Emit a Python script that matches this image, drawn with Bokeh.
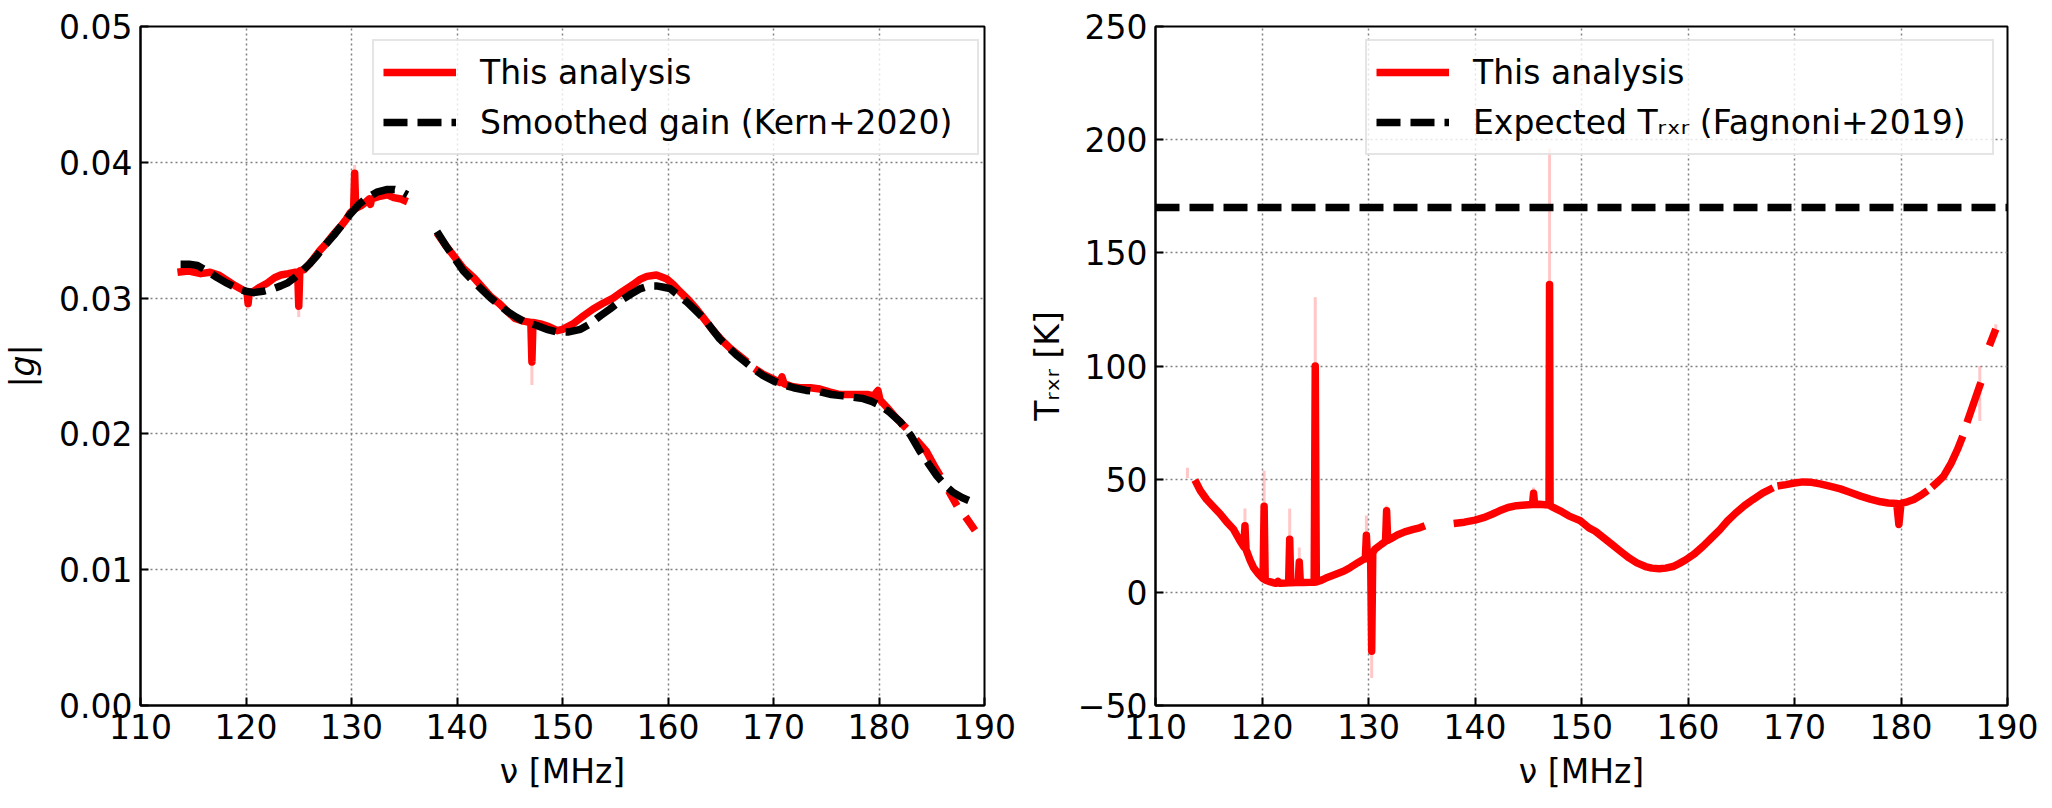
import math
from bokeh.plotting import figure
from bokeh.layouts import row
from bokeh.models import (Range1d, FixedTicker, NumeralTickFormatter,
                          CustomJSTickFormatter, Legend, LegendItem)
from bokeh.embed import file_html
from bokeh.resources import INLINE

NaN = float("nan")

# ---------------- data ----------------
freq_ticks = [110, 120, 130, 140, 150, 160, 170, 180, 190]
gain_ticks = [0.0, 0.01, 0.02, 0.03, 0.04, 0.05]
trxr_ticks = [-50, 0, 50, 100, 150, 200, 250]

# |g| : this analysis (NaN = flagged gap)
gain_freq = [113.5, 114.5, 115.7, 116.6, 117.4, 118.2, 119.0, 119.7, 120.1, 120.2, 120.3,
             120.7, 121.3, 122.0, 122.7, 123.3, 124.0, 124.6, 124.9, 125.0, 125.1, 125.5,
             126.0, 126.4, 127.0, 127.7, 128.3, 129.0, 129.5, 129.9, 130.2, 130.3, 130.4,
             130.9, 131.4, 131.7, 131.8, 131.9, 132.7, 133.4, 134.0, 134.7, 135.3, NaN,
             138.1, 138.9, 139.7, 140.6, 141.6, 142.4, 143.2, 144.0, 144.8, 145.5, 146.3,
             147.0, 147.1, 147.2, 147.9, 148.7, 149.5, 150.0, 151.0, 152.0, 152.9, 153.8,
             154.8, 155.7, 156.7, 157.4, 158.0, 158.9, 159.9, 160.5, 161.1, 161.9, 162.7,
             163.5, 164.3, 165.1, 165.9, 166.7, 167.5, NaN, 168.2, 169.0, 169.8, 170.6,
             170.8, 171.0, 171.7, 172.5, 173.5, 174.4, 175.3, 176.3, 177.2, 178.2, 178.9,
             179.5, 179.9, 180.1, 180.7, 181.6, 182.6, NaN, 183.5, 184.5, 185.2, 185.8, NaN,
             186.6, 187.4, NaN, 188.2, 189.1]
gain_amp = [0.0319, 0.0320, 0.0318, 0.0319, 0.0317, 0.0313, 0.0309, 0.0306, 0.0304, 0.0296, 0.0304,
            0.0305, 0.0308, 0.0311, 0.0315, 0.0317, 0.0318, 0.0319, 0.0319, 0.0294, 0.0320, 0.0321,
            0.0325, 0.0329, 0.0335, 0.0341, 0.0347, 0.0353, 0.0358, 0.0363, 0.0365, 0.0392, 0.0366,
            0.0368, 0.0371, 0.0373, 0.0369, 0.0373, 0.0375, 0.0376, 0.0374, 0.0373, 0.0371, NaN,
            0.0348, 0.0339, 0.0331, 0.0322, 0.0315, 0.0308, 0.0301, 0.0296, 0.0290, 0.0285, 0.0283,
            0.0282, 0.0253, 0.0282, 0.0281, 0.0279, 0.0276, 0.0277, 0.0281, 0.0287, 0.0292, 0.0296,
            0.0300, 0.0305, 0.0310, 0.0314, 0.0316, 0.0317, 0.0314, 0.0310, 0.0305, 0.0299, 0.0292,
            0.0284, 0.0276, 0.0269, 0.0263, 0.0258, 0.0253, NaN, 0.0248, 0.0244, 0.0241, 0.0238,
            0.0242, 0.0237, 0.0235, 0.0234, 0.0234, 0.0233, 0.0231, 0.0229, 0.0229, 0.0229, 0.0229,
            0.0228, 0.0232, 0.0225, 0.0220, 0.0212, 0.0204, NaN, 0.0196, 0.0187, 0.0177, 0.0169, NaN,
            0.0158, 0.0147, NaN, 0.0139, 0.0129]

# |g| uncertainty excursions at flagged spikes
gain_err_freq = [120.2, 125.0, 130.3, 147.1]
gain_err_lo = [0.0296, 0.0294, 0.0392, 0.0253]
gain_err_hi = [0.0292, 0.0286, 0.0398, 0.0236]

# smoothed gain (Kern+2020)
smooth_freq = [113.8, 114.6, 115.4, 116.3, 117.3, 118.2, 119.2, 120.0, 120.7, 121.6, 122.6,
               123.3, 123.9, 124.6, 125.2, 126.0, 126.7, 127.5, 128.3, 129.1, 129.9, 130.7,
               131.5, 132.4, 133.4, 134.1, 134.6, 135.3, NaN,
               138.1, 139.0, 139.7, 140.6, 141.6, 142.4, 143.2, 144.0, 144.8, 145.6, 146.3,
               147.5, 148.5, 149.5, 150.5, 151.7, 152.6, 153.6, 154.5, 155.5, 156.5, 157.4,
               158.2, 158.9, 159.6, 160.2, 161.0, 161.8, 162.6, 163.4, 164.2, 164.9, 165.7,
               166.5, 167.3, 168.1, 169.0, 170.0, 171.0, 171.9, 173.1, 174.4, 175.5, 176.6,
               177.5, 178.5, 179.3, 180.1, 181.0, 182.0, 183.0, 183.9, 184.7, 185.5, 186.3,
               187.0, 187.9, 188.8]
smooth_amp = [0.0325, 0.0325, 0.0324, 0.0320, 0.0315, 0.0311, 0.0307, 0.0305, 0.0304, 0.0305, 0.0307,
              0.0309, 0.0311, 0.0315, 0.0319, 0.0325, 0.0331, 0.0339, 0.0346, 0.0354, 0.0362, 0.0369,
              0.0374, 0.0378, 0.0380, 0.0380, 0.0379, 0.0376, NaN,
              0.0349, 0.0338, 0.0330, 0.0320, 0.0312, 0.0306, 0.0300, 0.0295, 0.0290, 0.0286, 0.0283,
              0.0280, 0.0277, 0.0275, 0.0275, 0.0277, 0.0281, 0.0287, 0.0292, 0.0298, 0.0303, 0.0307,
              0.0309, 0.0309, 0.0308, 0.0307, 0.0302, 0.0297, 0.0291, 0.0285, 0.0277, 0.0270, 0.0264,
              0.0258, 0.0253, 0.0248, 0.0243, 0.0239, 0.0236, 0.0234, 0.0232, 0.0231, 0.0229, 0.0228,
              0.0227, 0.0226, 0.0224, 0.0221, 0.0216, 0.0209, 0.0199, 0.0187, 0.0178, 0.0169, 0.0162,
              0.0157, 0.0153, 0.0150]

# T_rxr : this analysis
trxr_freq = [113.7, 114.2, 114.8, 115.5, 116.1, 116.7, 117.3, 117.9, 118.3, 118.4, 118.5,
             118.9, 119.2, 119.6, 120.0, 120.1, 120.2, 120.3, 120.8, 121.3, 121.5, 121.7,
             122.2, 122.5, 122.6, 122.7, 123.2, 123.4, 123.5, 123.6, 123.9, 124.5, 124.9,
             125.0, 125.1, 125.6, 126.0, 126.5, 127.1, 127.7, 128.3, 129.0, 129.5, 129.7,
             129.8, 129.9, 130.2, 130.3, 130.4, 130.6, 131.2, 131.6, 131.7, 131.8, 132.1,
             132.7, 133.4, 134.2, 134.8, 135.3, NaN,
             138.0, 139.0, 140.0, 140.8, 141.6, 142.3, 143.1, 143.9, 144.7, 145.4, 145.5,
             145.6, 146.0, 146.6, 146.95, 147.0, 147.05, 147.2, 148.0, 148.8, 149.3, 149.9, 150.7,
             151.3, 152.1, 152.9, 153.7, 154.5, 155.2, 156.0, 156.6, 157.3, 157.9, 158.6,
             159.2, 159.8, 160.6, 161.4, 162.2, 163.0, 163.7, 164.5, 165.3, 166.1, 167.0,
             168.0, NaN, 168.4, 169.2, 170.0, 170.8, 171.6, 172.4, 173.3, 174.3, 175.2,
             176.2, 177.1, 178.1, 178.8, 179.6, 179.8, 180.0, 180.6, 181.2, 182.0, 182.5, NaN,
             182.9, 183.5, 184.0, 184.7, 185.3, 185.8, NaN, 186.2, 186.9, 187.5, NaN,
             188.3, 188.9]
trxr_temp = [49.6, 45.0, 41.0, 37.5, 34.5, 31.0, 28.0, 23.0, 20.0, 29.4, 19.0,
             14.0, 11.0, 8.5, 6.5, 6.0, 38.0, 5.5, 4.6, 4.0, 4.8, 4.0,
             4.1, 4.2, 23.5, 4.2, 4.3, 4.3, 13.4, 4.3, 4.3, 4.4, 4.5,
             100.0, 4.6, 5.4, 6.3, 7.2, 8.3, 9.4, 11.0, 13.1, 14.5, 14.8,
             25.2, 15.3, 16.0, -26.0, 17.5, 19.0, 21.2, 22.5, 36.0, 23.0, 23.7,
             25.3, 26.7, 27.8, 28.5, 29.4, NaN,
             30.4, 31.0, 31.9, 33.0, 34.5, 36.0, 37.5, 38.3, 38.6, 38.8, 43.8,
             38.8, 38.9, 38.7, 38.6, 136.0, 38.2, 37.9, 36.0, 33.8, 32.8, 31.6, 28.5,
             27.0, 24.0, 21.0, 18.0, 15.1, 13.0, 11.4, 10.7, 10.4, 10.7, 11.4,
             12.8, 14.4, 17.0, 20.3, 24.0, 27.7, 31.5, 35.1, 38.3, 41.0, 43.8,
             46.2, NaN, 47.0, 47.6, 48.3, 48.8, 48.6, 47.9, 46.9, 45.7, 44.2,
             42.5, 41.2, 40.0, 39.5, 39.2, 30.0, 39.3, 40.0, 41.0, 43.3, 45.0, NaN,
             46.5, 49.0, 51.3, 57.0, 63.1, 69.0, NaN, 75.0, 84.6, 92.7, NaN,
             109.0, 116.3]

# T_rxr uncertainty excursions
trxr_err_freq = [113.0, 118.4, 120.2, 122.6, 123.5, 125.0, 129.8, 130.3, 131.7, 145.5, 147.0, 187.4, 188.9]
trxr_err_lo = [50.5, 29.4, 38.0, 23.5, 13.4, 100.0, 25.2, -26.0, 36.0, 43.8, 136.0, 75.7, 114.0]
trxr_err_hi = [55.0, 37.0, 53.7, 37.0, 19.8, 130.4, 34.0, -37.8, 38.3, 46.3, 196.0, 100.0, 118.5]

# expected receiver temperature (Fagnoni+2019)
expected_freq = [110, 190]
expected_trxr = [170, 170]

# ---------------- styling ----------------
FONT = "DejaVu Sans"
FS = "33px"
LW = 7.5


def make_fig(ymin, ymax, fw, left, right):
    p = figure(frame_width=fw, frame_height=679,
               min_border_left=left, min_border_right=right,
               min_border_top=26, min_border_bottom=90,
               x_range=Range1d(110, 190), y_range=Range1d(ymin, ymax),
               output_backend="svg", toolbar_location=None,
               background_fill_color="white", border_fill_color="white")
    p.outline_line_color = "black"
    p.outline_line_width = 2
    p.outline_line_alpha = 1.0
    for ax in p.axis:
        ax.major_tick_in = 8
        ax.major_tick_out = 0
        ax.minor_tick_in = 0
        ax.minor_tick_out = 0
        ax.major_tick_line_width = 2
        ax.major_tick_line_color = "black"
        ax.axis_line_color = "black"
        ax.axis_line_width = 2
        ax.major_label_text_font = FONT
        ax.major_label_text_font_size = FS
        ax.major_label_text_color = "black"
        ax.axis_label_text_font = FONT
        ax.axis_label_text_font_size = FS
        ax.axis_label_text_font_style = "normal"
        ax.axis_label_text_color = "black"
        ax.major_label_standoff = 8
    p.xaxis.ticker = FixedTicker(ticks=freq_ticks)
    p.xaxis.axis_label_standoff = 10
    p.grid.grid_line_color = "#808080"
    p.grid.grid_line_dash = "2 3"
    p.grid.grid_line_width = 1.5
    return p


def make_legend(items, loc, lw):
    return Legend(items=items, location=loc, margin=0, padding=9, spacing=6,
                  glyph_width=73, glyph_height=44, label_height=44, label_standoff=24,
                  label_width=lw,
                  label_text_font=FONT, label_text_font_size=FS, label_text_color="black",
                  background_fill_color="white", background_fill_alpha=0.8,
                  border_line_color="#cccccc", border_line_width=2)


# ---- left: gain ----
p1 = make_fig(0, 0.05, 844, 138, 40)
p1.yaxis.ticker = FixedTicker(ticks=gain_ticks)
p1.yaxis.formatter = NumeralTickFormatter(format="0.00")
p1.xaxis.axis_label = "ν [MHz]"
p1.yaxis.axis_label = "|g|"
p1.yaxis.axis_label_text_font_style = "italic"
p1.yaxis.axis_label_standoff = 14

p1.segment(x0=gain_err_freq, y0=gain_err_lo, x1=gain_err_freq, y1=gain_err_hi,
           line_color="red", line_alpha=0.22, line_width=3)
r_g = p1.line(gain_freq, gain_amp, line_color="red", line_width=LW, line_join="round")
r_s = p1.line(smooth_freq, smooth_amp, line_color="black", line_width=LW,
              line_dash="24 10", line_join="round")
p1.add_layout(make_legend([LegendItem(label="This analysis", renderers=[r_g]),
                           LegendItem(label="Smoothed gain (Kern+2020)", renderers=[r_s])],
                          (232, 550), 488))

# ---- right: receiver temperature ----
p2 = make_fig(-50, 250, 852, 131, 31)
p2.yaxis.ticker = FixedTicker(ticks=trxr_ticks)
p2.yaxis.formatter = CustomJSTickFormatter(
    code="return tick < 0 ? '\\u2212' + Math.abs(tick) : String(tick);")
p2.xaxis.axis_label = "ν [MHz]"
p2.yaxis.axis_label = "Tᵣₓᵣ [K]"
p2.yaxis.axis_label_standoff = 8

p2.segment(x0=trxr_err_freq, y0=trxr_err_lo, x1=trxr_err_freq, y1=trxr_err_hi,
           line_color="red", line_alpha=0.22, line_width=3)
r_t = p2.line(trxr_freq, trxr_temp, line_color="red", line_width=LW, line_join="round")
r_e = p2.line(expected_freq, expected_trxr, line_color="black", line_width=LW,
              line_dash="24 10")
p2.add_layout(make_legend([LegendItem(label="This analysis", renderers=[r_t]),
                           LegendItem(label="Expected Tᵣₓᵣ (Fagnoni+2019)", renderers=[r_e])],
                          (210, 550), 510))

layout = row(p1, p2)
open("out.html", "w").write(file_html(layout, INLINE))
